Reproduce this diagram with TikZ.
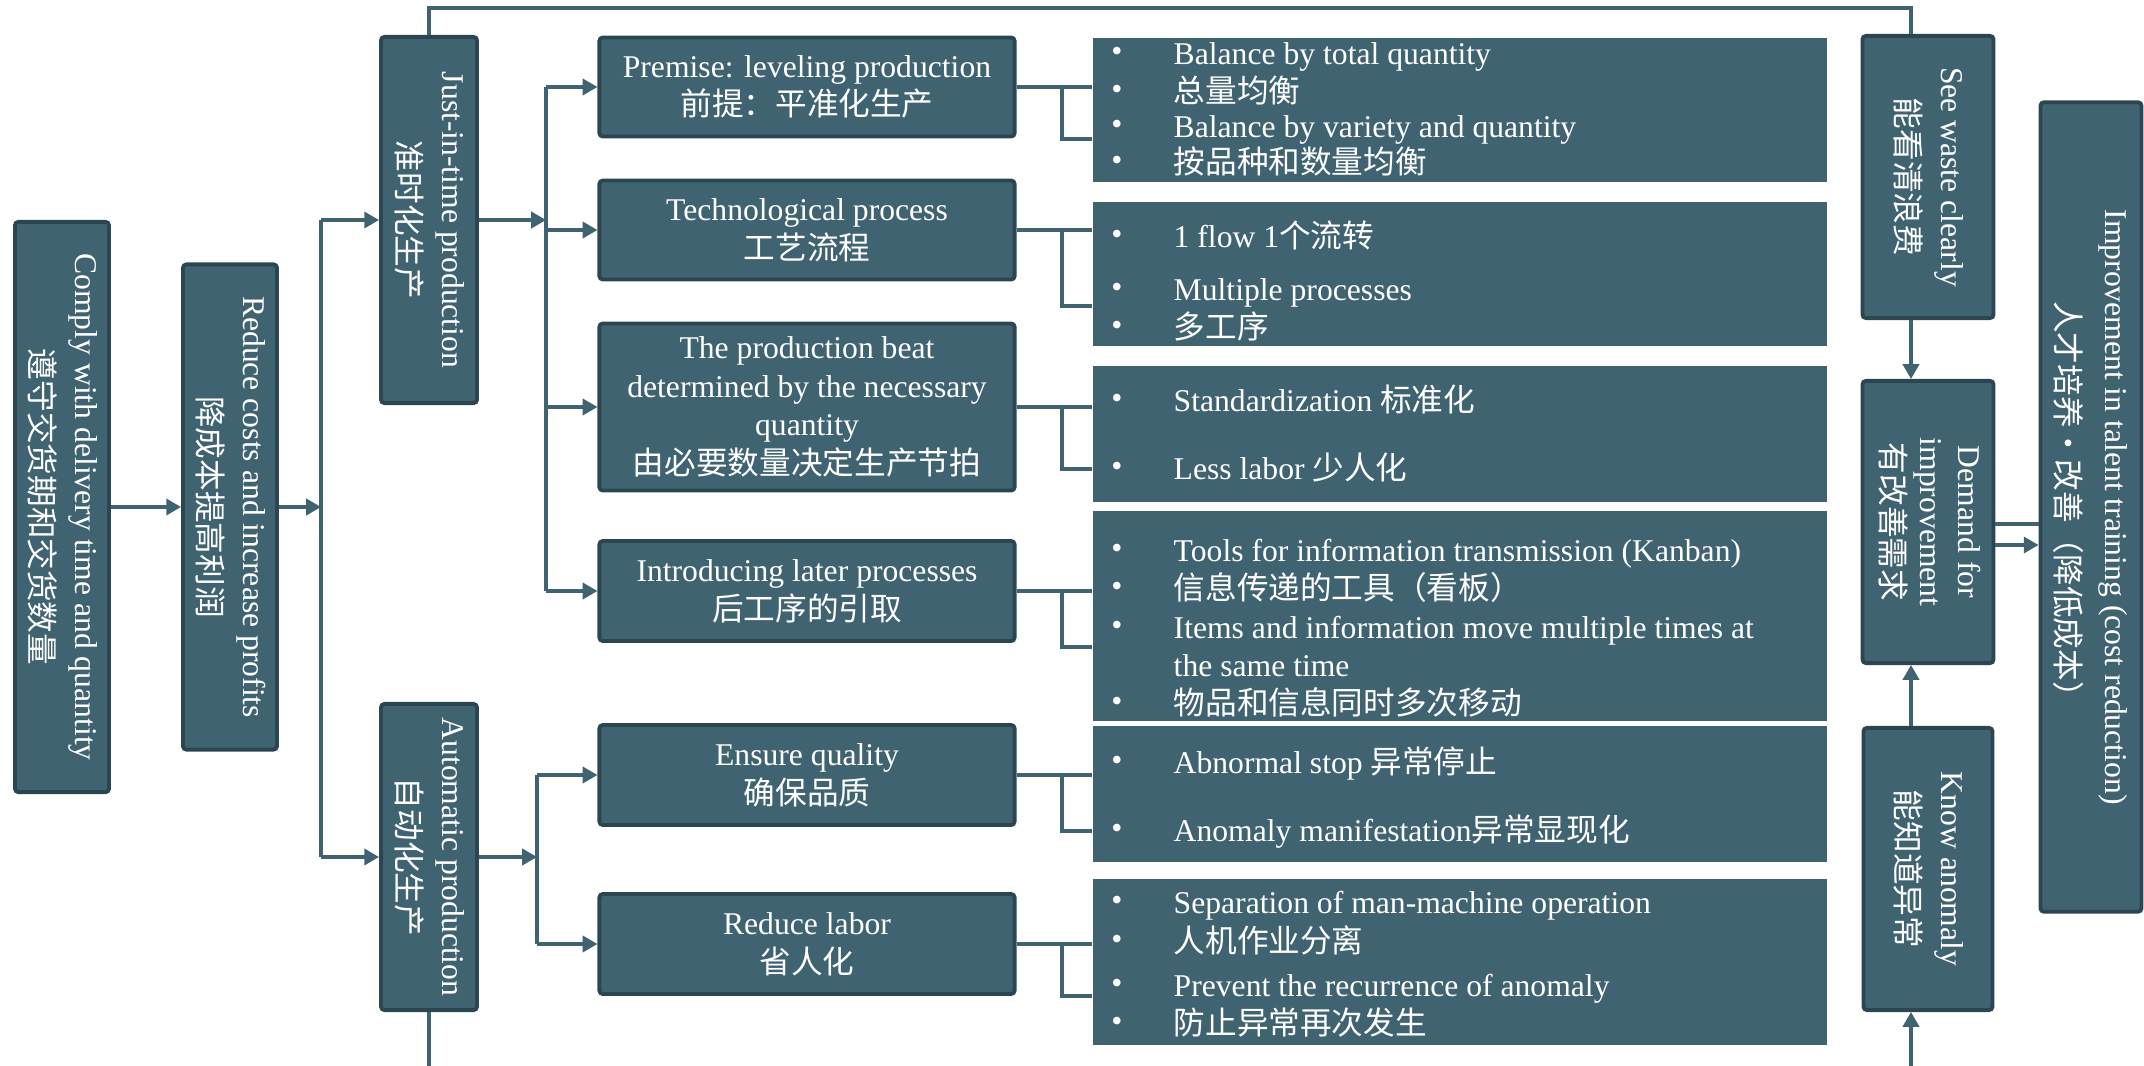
\documentclass[tikz,border=0pt]{standalone}
\usepackage{fontspec}
\usepackage{graphicx}
\setmainfont{Liberation Serif}
\newfontfamily\cjk{Noto Sans CJK SC}
\usetikzlibrary{arrows.meta,calc}
\definecolor{tpsfill}{HTML}{406372}
\definecolor{tpsedge}{HTML}{2C4651}
\newcommand{\tpsfont}{\fontsize{9}{11}\selectfont}
\newcommand{\vstretch}{1.17}
\newcommand{\vlines}[1]{\renewcommand{\arraystretch}{\vstretch}%
  \rotatebox{-90}{\begin{tabular}{@{}c@{}}#1\end{tabular}}}
\tikzset{
  box/.style    ={draw=tpsedge, fill=tpsfill, line width=1.1pt, rounded corners=1pt,
                  inner sep=0pt, align=center, text=white, font=\tpsfont},
  midbox/.style ={box, minimum width=4.15cm},
  listbox/.style={fill=tpsfill, minimum width=7.34cm, inner sep=0pt},
  dotmark/.style={text=white, font=\tpsfont, inner sep=0pt},
  itemtxt/.style={anchor=base west, text=white, font=\tpsfont, inner sep=0pt},
  wire/.style   ={draw=tpsfill, line width=0.9pt},
  arr/.style    ={wire, -{Triangle[length=4.2pt,width=4.6pt]}},
}

\begin{document}
\begin{tikzpicture}[x=0.01cm, y=-0.01cm]
  \useasboundingbox (0,0) rectangle (2144,1066);

  % left chain
  \node[box, minimum width=0.94cm, minimum height=5.70cm] (comply) at (62,507)
    {\vlines{Comply with delivery time and quantity\\ {\cjk 遵守交货期和交货数量}}};
  \node[box, minimum width=0.94cm, minimum height=4.85cm] (reduce) at (230,507)
    {\vlines{Reduce costs and increase profits\\ {\cjk 降成本提高利润}}};
  \node[box, minimum width=0.96cm, minimum height=3.66cm] (jit) at (429,220)
    {\vlines{Just-in-time production\\ {\cjk 准时化生产}}};
  \node[box, minimum width=0.96cm, minimum height=3.06cm] (auto) at (429,857)
    {\vlines{Automatic production\\ {\cjk 自动化生产}}};

  % middle column
  \node[midbox, minimum height=0.99cm] (premise) at (807,87)
    {Premise: leveling production\\ {\cjk 前提：平准化生产}};
  \node[midbox, minimum height=0.99cm] (techproc) at (807,230)
    {Technological process\\ {\cjk 工艺流程}};
  \node[midbox, minimum height=1.67cm] (beat) at (807,407)
    {The production beat\\ determined by the necessary\\ quantity\\
     {\cjk 由必要数量决定生产节拍}};
  \node[midbox, minimum height=1.00cm] (pull) at (807,591)
    {Introducing later processes\\ {\cjk 后工序的引取}};
  \node[midbox, minimum height=1.00cm] (quality) at (807,775)
    {Ensure quality\\ {\cjk 确保品质}};
  \node[midbox, minimum height=1.00cm] (labor) at (807,944)
    {Reduce labor\\ {\cjk 省人化}};

  % bullet lists
  \node[listbox, minimum height=1.43cm] (lev)    at (1460,110) {};
  \node[listbox, minimum height=1.43cm] (flow)   at (1460,274) {};
  \node[listbox, minimum height=1.35cm] (takt)   at (1460,434) {};
  \node[listbox, minimum height=2.10cm] (kanban) at (1460,616) {};
  \node[listbox, minimum height=1.36cm] (jidoka) at (1460,794) {};
  \node[listbox, minimum height=1.66cm] (sep)    at (1460,962) {};

  \foreach \y/\t in {54/Balance by total quantity, 92/{\cjk 总量均衡},
      127/Balance by variety and quantity, 163/{\cjk 按品种和数量均衡},
      237/1 flow 1{\cjk 个流转}, 290/Multiple processes, 328/{\cjk 多工序},
      401/Standardization {\cjk 标准化}, 469/Less labor {\cjk 少人化},
      551/Tools for information transmission (Kanban),
      589/{\cjk 信息传递的工具（看板）},
      628/Items and information move multiple times at,
      704/{\cjk 物品和信息同时多次移动},
      763/Abnormal stop {\cjk 异常停止},
      831/Anomaly manifestation{\cjk 异常显现化},
      903/Separation of man-machine operation, 942/{\cjk 人机作业分离},
      986/Prevent the recurrence of anomaly, 1024/{\cjk 防止异常再次发生}} {
    \node[dotmark] at (1117,\y) {\textbullet};
    \node[itemtxt] at (1173,\y+10) {\t};
  }
  \node[itemtxt] at (1173,676) {the same time};

  % right column
  \node[box, minimum width=1.31cm, minimum height=2.82cm] (waste) at (1928,177)
    {\vlines{See waste clearly\\ {\cjk 能看清浪费}}};
  \node[box, minimum width=1.31cm, minimum height=2.82cm] (demand) at (1928,522)
    {\renewcommand{\vstretch}{1.0}%
     \vlines{Demand for\\ improvement\\ {\cjk 有改善需求}}};
  \node[box, minimum width=1.29cm, minimum height=2.82cm] (anomaly) at (1928,869)
    {\vlines{Know anomaly\\ {\cjk 能知道异常}}};
  \node[box, minimum width=1.01cm, minimum height=8.09cm] (talent) at (2091,507)
    {\renewcommand{\vstretch}{1.27}%
     \vlines{Improvement in talent training (cost reduction)\\
             {\cjk 人才培养・改善（降低成本）}}};

  % trunk
  \coordinate (trunk) at (321,507);
  \draw[arr] (comply) -- (reduce);
  \draw[arr] (reduce) -- (trunk);
  \draw[wire] (trunk |- jit.west) -- (trunk |- auto.west);
  \draw[arr] (trunk |- jit.west) -- (jit);
  \draw[arr] (trunk |- auto.west) -- (auto);

  % branches
  \coordinate (jbr) at (546,220);
  \draw[arr] (jit) -- (jbr);
  \draw[wire] (jbr |- premise.west) -- (jbr |- pull.west);
  \foreach \m in {premise,techproc,beat,pull}
    \draw[arr] (jbr |- \m.west) -- (\m.west);

  \coordinate (abr) at (537,857);
  \draw[arr] (auto) -- (abr);
  \draw[wire] (abr |- quality.west) -- (abr |- labor.west);
  \foreach \m in {quality,labor}
    \draw[arr] (abr |- \m.west) -- (\m.west);

  % to the lists
  \foreach \m/\l/\j in {premise/lev/139, techproc/flow/306, beat/takt/469,
      pull/kanban/647, quality/jidoka/831, labor/sep/996} {
    \draw[wire] (\m.east) -- (\m.east -| \l.west);
    \draw[wire] (\m.east) -| (1062,\j) -- (\l.west |- 1062,\j);
  }

  % feedback
  \coordinate (fb) at (1911,8);
  \draw[wire] (jit.north) |- (fb) -- (fb |- waste.north);
  \draw[arr] (fb |- waste.south) -- (fb |- demand.north);
  \draw[arr] (fb |- anomaly.north) -- (fb |- demand.south);
  \coordinate (lowL) at (429,1066);
  \coordinate (lowR) at (1911,1066);
  \draw[wire] (auto) -- (lowL);
  \draw[arr] (lowR) -- (fb |- anomaly.south);
  \draw[wire] (demand.east |- 0,524) -- (talent.west |- 0,524);
  \draw[arr] (demand.east |- 0,545) -- (talent.west |- 0,545);

\end{tikzpicture}
\end{document}
